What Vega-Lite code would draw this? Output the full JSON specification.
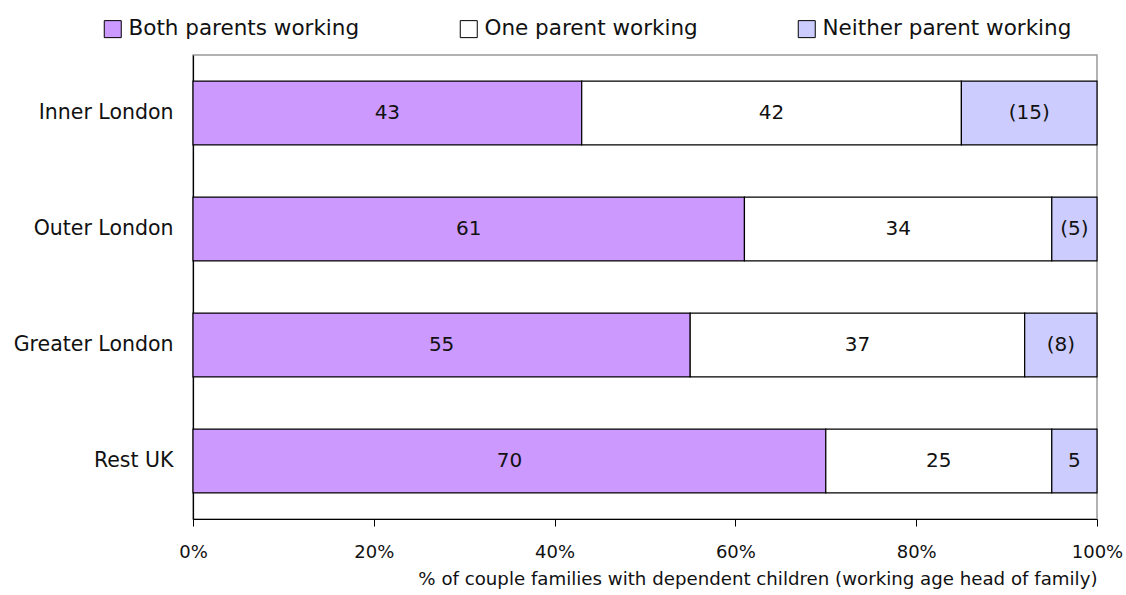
{
  "$schema": "https://vega.github.io/schema/vega-lite/v6.json",
  "width": 904,
  "height": 464,
  "autosize": {"type": "none"},
  "padding": {"left": 193, "top": 55, "right": 29, "bottom": 76},
  "background": "white",
  "config": {
    "font": "DejaVu Sans",
    "view": {"stroke": "#999999", "strokeWidth": 1.5},
    "axis": {"grid": false}
  },
  "data": {
    "values": [
      {"region": "Inner London", "status": "Both parents working", "order": 1, "value": 43, "label": "43"},
      {"region": "Inner London", "status": "One parent working", "order": 2, "value": 42, "label": "42"},
      {"region": "Inner London", "status": "Neither parent working", "order": 3, "value": 15, "label": "(15)"},
      {"region": "Outer London", "status": "Both parents working", "order": 1, "value": 61, "label": "61"},
      {"region": "Outer London", "status": "One parent working", "order": 2, "value": 34, "label": "34"},
      {"region": "Outer London", "status": "Neither parent working", "order": 3, "value": 5, "label": "(5)"},
      {"region": "Greater London", "status": "Both parents working", "order": 1, "value": 55, "label": "55"},
      {"region": "Greater London", "status": "One parent working", "order": 2, "value": 37, "label": "37"},
      {"region": "Greater London", "status": "Neither parent working", "order": 3, "value": 8, "label": "(8)"},
      {"region": "Rest UK", "status": "Both parents working", "order": 1, "value": 70, "label": "70"},
      {"region": "Rest UK", "status": "One parent working", "order": 2, "value": 25, "label": "25"},
      {"region": "Rest UK", "status": "Neither parent working", "order": 3, "value": 5, "label": "5"}
    ]
  },
  "transform": [
    {"stack": "value", "groupby": ["region"], "sort": [{"field": "order"}], "as": ["x0", "x1"]},
    {"calculate": "(datum.x0 + datum.x1) / 2", "as": "mid"}
  ],
  "layer": [
    {
      "mark": {"type": "bar", "stroke": "black", "strokeWidth": 1.2},
      "encoding": {
        "y": {
          "field": "region", "type": "nominal",
          "sort": ["Inner London", "Outer London", "Greater London", "Rest UK"],
          "scale": {"paddingInner": 0.45, "paddingOuter": 0.225},
          "axis": {"title": null, "ticks": false, "domainColor": "black", "domainWidth": 1.2, "labelFontSize": 20.5, "labelColor": "#111111", "labelPadding": 20}
        },
        "x": {
          "field": "x0", "type": "quantitative",
          "scale": {"domain": [0, 100], "nice": false},
          "axis": {
            "values": [0, 20, 40, 60, 80, 100],
            "labelExpr": "datum.value + '%'",
            "labelFontSize": 18, "labelColor": "#111111", "labelPadding": 17,
            "tickSize": 7, "tickColor": "black", "domainColor": "black", "domainWidth": 1.2,
            "labelFlush": false,
            "title": "% of couple families with dependent children (working age head of family)",
            "titleAnchor": "end", "titleFontWeight": "normal", "titleFontSize": 18.2, "titleColor": "#111111", "titlePadding": 9
          }
        },
        "x2": {"field": "x1"},
        "color": {
          "field": "status", "type": "nominal",
          "scale": {
            "domain": ["Both parents working", "One parent working", "Neither parent working"],
            "range": ["#CC99FF", "#FFFFFF", "#CCCCFF"]
          },
          "legend": {
            "title": null, "orient": "none", "direction": "horizontal",
            "legendX": -91, "legendY": -37,
            "symbolType": "square", "symbolSize": 289, "symbolStrokeColor": "black", "symbolStrokeWidth": 1,
            "labelFontSize": 21.5, "labelColor": "#111111", "labelOffset": 5, "columnPadding": 98,
            "labelLimit": 400
          }
        }
      }
    },
    {
      "mark": {"type": "text", "fontSize": 20, "color": "#111111"},
      "encoding": {
        "y": {"field": "region", "type": "nominal", "sort": ["Inner London", "Outer London", "Greater London", "Rest UK"]},
        "x": {"field": "mid", "type": "quantitative"},
        "text": {"field": "label"}
      }
    }
  ]
}
